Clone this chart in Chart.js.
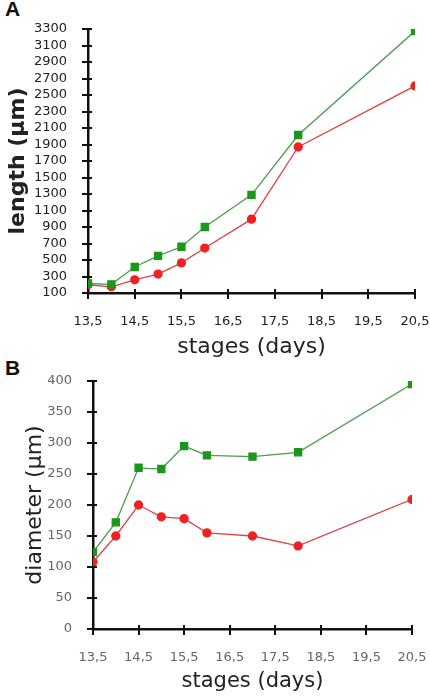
<!DOCTYPE html>
<html>
<head>
<meta charset="UTF-8">
<title>Length and diameter by stage</title>
<script src="https://cdn.jsdelivr.net/npm/chart.js@4"></script>
<style>
  body { margin: 0; background: #fff; }
  .panel { position: absolute; left: 0; width: 430px; }
  .letter { position: absolute; left: 5px; font: bold 21px "Liberation Sans", Arial, sans-serif; color: #111; }
</style>
</head>
<body>
<div class="letter" style="top:-3px">A</div>
<div class="letter" style="top:356px">B</div>
<div class="panel" style="top:0;height:360px"><canvas id="chartA"></canvas></div>
<div class="panel" style="top:360px;height:336px"><canvas id="chartB"></canvas></div>
<script>
// stages in days
const stages = [13.5, 14, 14.5, 15, 15.5, 16, 17, 18, 20.5];

// panel A: length (µm)
const lengthGreen = [215, 205, 415, 550, 660, 900, 1290, 2015, 3275];
const lengthRed = [200, 175, 260, 330, 465, 645, 995, 1870, 2610];

// panel B: diameter (µm)
const diameterGreen = [124, 172, 260, 258, 295, 280, 278, 285, 395];
const diameterRed = [108, 150, 200, 181, 178, 155, 150, 134, 209];

const GREEN = '#1c961c';
const GREEN_LINE = '#4a9e4a';
const RED = '#ee2222';
const RED_LINE = '#dd4444';

const toPoints = (ys) => ys.map((y, i) => ({ x: stages[i], y: y }));

// ticks that cross the axis line, like the original figure
const crossTicks = {
  id: 'crossTicks',
  afterDraw(chart) {
    const ctx = chart.ctx;
    const x = chart.scales.x, y = chart.scales.y;
    ctx.save();
    ctx.strokeStyle = '#111';
    ctx.lineWidth = 2;
    ctx.beginPath();
    x.ticks.forEach((t) => {
      const px = Math.round(x.getPixelForValue(t.value));
      ctx.moveTo(px, x.top - 4);
      ctx.lineTo(px, x.top + 6);
    });
    y.ticks.forEach((t) => {
      const py = Math.round(y.getPixelForValue(t.value));
      ctx.moveTo(y.right - 6, py);
      ctx.lineTo(y.right + 4, py);
    });
    ctx.stroke();
    ctx.restore();
  }
};

// keep the plot area exactly where the layout padding puts it
function noEdgePadding(s) {
  s.paddingLeft = 0;
  s.paddingRight = 0;
  s.paddingTop = 0;
  s.paddingBottom = 0;
}

function makeChart(id, green, red, cfg) {
  return new Chart(document.getElementById(id), {
    type: 'line',
    data: {
      datasets: [
        {
          data: toPoints(green),
          borderColor: GREEN_LINE,
          borderWidth: 1.3,
          backgroundColor: GREEN,
          pointBackgroundColor: GREEN,
          pointBorderColor: GREEN,
          pointStyle: 'rect',
          pointRadius: 5,
          tension: 0
        },
        {
          data: toPoints(red),
          borderColor: RED_LINE,
          borderWidth: 1.3,
          backgroundColor: RED,
          pointBackgroundColor: RED,
          pointBorderColor: RED,
          pointStyle: 'circle',
          pointRadius: 4,
          tension: 0
        }
      ]
    },
    options: {
      responsive: true,
      maintainAspectRatio: false,
      animation: false,
      layout: { padding: { top: cfg.top, right: cfg.right, left: 0, bottom: 0 } },
      plugins: { legend: { display: false }, tooltip: { enabled: false } },
      scales: {
        x: {
          type: 'linear',
          min: 13.5,
          max: 20.5,
          border: { color: '#111', width: 2.5 },
          grid: { display: false },
          ticks: {
            stepSize: 1,
            padding: 13,
            autoSkip: false,
            maxRotation: 0,
            color: cfg.tickColor,
            font: { family: 'DejaVu Sans', size: 13 },
            callback: (v) => String(v).replace('.', ',')
          },
          title: {
            display: true,
            text: 'stages (days)',
            color: '#222',
            font: { family: 'DejaVu Sans', size: cfg.xTitleSize },
            padding: { top: 0, bottom: cfg.xTitleBottom }
          },
          afterFit: (s) => { s.height = cfg.xHeight; noEdgePadding(s); }
        },
        y: {
          min: cfg.yMin,
          max: cfg.yMax,
          border: { color: '#111', width: 2.5 },
          grid: { display: false },
          ticks: {
            stepSize: cfg.yStep,
            padding: 13,
            autoSkip: false,
            color: cfg.tickColor,
            font: { family: 'DejaVu Sans', size: 13 },
            callback: (v) => String(v)
          },
          title: {
            display: true,
            text: cfg.yTitle,
            color: '#222',
            font: { family: 'DejaVu Sans', size: cfg.yTitleSize, weight: cfg.yTitleWeight },
            padding: { top: cfg.yTitleLeft, bottom: 4 }
          },
          afterFit: (s) => { s.width = cfg.yWidth; noEdgePadding(s); }
        }
      }
    },
    plugins: [crossTicks]
  });
}

makeChart('chartA', lengthGreen, lengthRed, {
  top: 29, right: 15, xHeight: 67, yWidth: 88,
  yMin: 100, yMax: 3300, yStep: 200,
  yTitle: 'length (\u00b5m)', yTitleSize: 22, yTitleWeight: 'bold', yTitleLeft: 5,
  xTitleSize: 22, xTitleBottom: 0,
  tickColor: '#222'
});

makeChart('chartB', diameterGreen, diameterRed, {
  top: 21, right: 18, xHeight: 67, yWidth: 93,
  yMin: 0, yMax: 400, yStep: 50,
  yTitle: 'diameter (\u00b5m)', yTitleSize: 22, yTitleWeight: 'normal', yTitleLeft: 22,
  xTitleSize: 21, xTitleBottom: 2,
  tickColor: '#666'
});
</script>
</body>
</html>
